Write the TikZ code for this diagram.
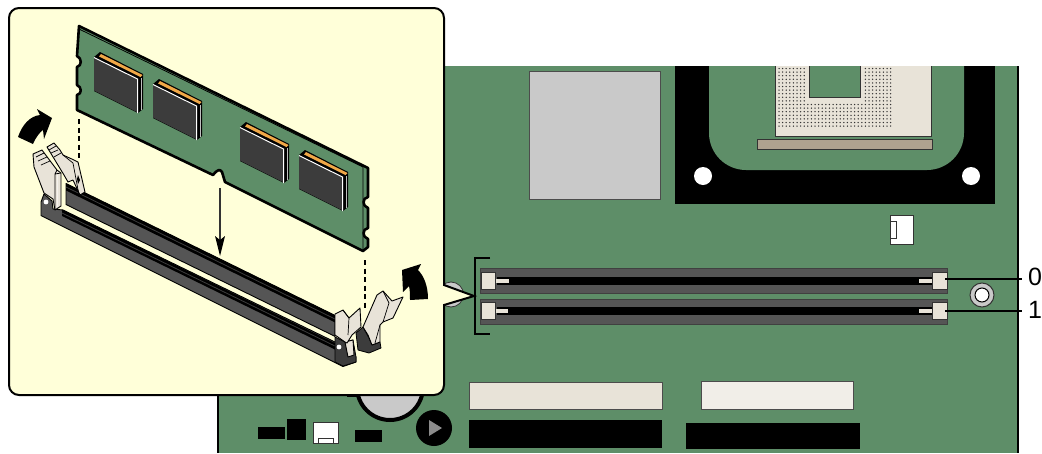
\documentclass[tikz,border=0pt]{standalone}
\usepackage{fontspec}
\setmainfont{Liberation Sans}
\definecolor{pcb}{HTML}{5E8E68}
\definecolor{cream}{HTML}{FFFFD9}
\definecolor{beige}{HTML}{E8E3D8}
\definecolor{slotgray}{HTML}{555555}
\definecolor{chipgray}{HTML}{3C3C3C}
\definecolor{tan}{HTML}{AFA28F}
\definecolor{silver}{HTML}{C9C9C9}
\definecolor{orangepin}{HTML}{F0A848}
\tikzset{
  slotbody/.style={fill=slotgray,draw=black!75,line width=0.8},
  clipbox/.style={fill=beige,draw=black!80,line width=0.8},
  clipshape/.style={fill=beige,draw=black,line width=0.9,line join=round},
  railshape/.style={fill=chipgray,draw=black,line width=0.8,line join=round},
  guide/.style={draw=black,line width=1.8,dash pattern=on 5pt off 3.5pt},
  leader/.style={draw=black,line width=1.5},
  numlabel/.style={font=\fontsize{25}{27}\selectfont,inner sep=0pt,anchor=center},
}
\newcommand{\chip}[2]{%
  \begin{scope}[shift={(#1,#2)}]
    \fill[black] (0,0) -- (6,-5) -- (49,17) -- (49,52) -- (44,56) -- (0,34) -- cycle;
    \fill[orangepin] (7,-3) -- (48.5,18) -- (46.5,20) -- (5,-0.5) -- cycle;
    \fill[chipgray] (0,1) -- (43,22) -- (43,55) -- (0,33.5) -- cycle;
    \draw[white,line width=1] (0,0.5) -- (43.5,22) -- (43.5,56);
    \draw[white!75!black,line width=0.6] (47,21) -- (47,53);
  \end{scope}}
\begin{document}
\begin{tikzpicture}[x=1pt,y=-1pt]
\useasboundingbox (0,0) rectangle (1042,453);
\fill[white] (0,0) rectangle (1042,453);
% board
\fill[pcb] (218,66) rectangle (1018,453);
\draw[black,line width=2] (218,380) -- (218,453);
\draw[black,line width=2] (1018,66) -- (1018,453);
% silver block
\draw[fill=silver,draw=black!70,line width=1] (529,71) rectangle (660,199);
% CPU retention
\fill[black] (675,66) rectangle (995,204);
\fill[pcb] (709,66) -- (709,133) arc[start angle=180,end angle=90,radius=37] -- (927,170) arc[start angle=90,end angle=0,radius=37] -- (964,66) -- cycle;
\draw[fill=beige,draw=black!80,line width=0.8] (775,66) -- (775,136) -- (931,136) -- (931,66);
\foreach \r in {0,...,16} {
  \pgfmathsetmacro{\yy}{68.5+3.6*\r}
  \foreach \c in {0,...,31} {
    \pgfmathsetmacro{\xx}{779+3.6*\c}
    \pgfmathparse{(\r>9)||(\xx<805)||(\xx>865)?1:0}
    \ifnum\pgfmathresult=1\fill[black!80] (\xx,\yy) circle[radius=0.75];\fi
  }
}
\draw[fill=pcb,draw=black!80,line width=0.9] (809,66) -- (809,97) -- (860,97) -- (860,66);
\draw[fill=tan,draw=black!80,line width=0.9] (757,139) rectangle (932,149);
\fill[white] (703,176) circle[radius=9];
\fill[white] (971,176) circle[radius=9];
% small connector
\draw[fill=white,draw=black!80,line width=0.8] (890,215) rectangle (913,244);
\draw[draw=black!80,line width=0.8] (890,221) rectangle (896,238);
% ring
\draw[fill=silver,draw=black!80,line width=1] (982,295) circle[radius=12];
\draw[fill=white,draw=black,line width=1] (982,295) circle[radius=7];
% DIMM slots on board
\draw[slotbody] (480,268) rectangle (947,293);
\fill[black] (497,277) rectangle (934,285);
\draw[slotbody] (480,299) rectangle (947,324);
\fill[black] (497,307) rectangle (934,315);
\fill[beige] (495,279) rectangle (509,283);
\fill[beige] (495,309) rectangle (508,313);
\fill[beige] (919,279) rectangle (932,283);
\fill[beige] (919,309) rectangle (932,313);
\draw[clipbox] (481,272) rectangle (495,289);
\draw[clipbox] (481,302) rectangle (495,319);
\draw[clipbox] (932,272) rectangle (947,289);
\draw[clipbox] (932,302) rectangle (947,319);
% bracket
\draw[black,line width=1.5] (490,258) -- (475,258) -- (475,334) -- (490,334);
% rear parts
\draw[fill=silver,draw=black!80,line width=0.8] (451,294.5) circle[radius=12.5];
% bottom items
\fill[silver] (390,387) circle[radius=34];
\draw[black,line width=4] (390,387) circle[radius=33];
\fill[black] (347,390) rectangle (357,396.5);
\draw[fill=beige,draw=black!70,line width=0.8] (469,382) rectangle (662,409);
\draw[fill=beige!60!white,draw=black!70,line width=0.8] (701,381) rectangle (853,409);
\fill[black] (469,420) rectangle (662,448);
\fill[black] (686,423) rectangle (860,449);
\fill[black] (258,427) rectangle (285,439);
\fill[black] (287,419) rectangle (306,440);
\draw[fill=white,draw=black!80,line width=0.8] (313,422) rectangle (338,443);
\draw[fill=white,draw=black!80,line width=0.8] (318,438) rectangle (333,443);
\fill[black] (355,430) rectangle (382,442);
\fill[black] (434,428) circle[radius=18];
\fill[black!45] (429,420) -- (442,428) -- (429,436) -- cycle;
% callout
\draw[fill=cream,draw=black,line width=2,line join=miter,rounded corners=10]
  (9,200) -- (9,8) -- (444,8) [sharp corners] -- (444,285) -- (474,296) -- (444,305) [rounded corners=10] -- (444,395) -- (9,395) -- cycle;
% back rail
\draw[fill=slotgray,draw=black,line width=0.9,line join=round] (66,183.5) -- (335,315.4) -- (335,336.4) -- (66,204.5) -- cycle;
\fill[black] (66,183.5) -- (335,315.4) -- (335,322.4) -- (66,190.5) -- cycle;
\draw[chipgray,line width=0.8] (66,187) -- (335,319);
% front rail
\draw[fill=slotgray,draw=black,line width=0.9,line join=round]
  (41,202) -- (44,194) -- (52,201) -- (53,209) -- (63,210) -- (335,342) -- (337,347) -- (356,357) -- (356,362) -- (343,366.5) -- (41,215.5) -- cycle;
\fill[black] (62,209.5) -- (337,344) -- (337,350.5) -- (62,216) -- cycle;
\draw[chipgray,line width=0.8] (62,213) -- (337,347);
% left back clip
\draw[clipshape] (47,147) -- (54,143) -- (60,150) -- (63,155) -- (74,160) -- (78,162) -- (85,192) -- (80,195) -- (73,180) -- (68,182) -- (64,175) -- cycle;
\draw[black,line width=0.7] (49,150) -- (56,146) (51,153) -- (58,150) (54,157) -- (61,153);
\draw[black,line width=0.7] (73,163) -- (79,195) (63,155) -- (73,163);
\fill[black] (78,175) -- (80,180) -- (78,184) -- (77,179) -- cycle;
% left front clip
\draw[clipshape] (33,154) -- (42,150) -- (57,170) -- (61,173) -- (61,206) -- (55,210) -- (53,199) -- (44,193) -- (34,167) -- cycle;
\draw[black,line width=0.7] (36,157) -- (44,153) (38,161) -- (47,157) (41,165) -- (50,161);
\draw[black,line width=0.8] (57,170) -- (55,174) -- (55,210) (55,174) -- (61,173);
\fill[white!50!beige] (56.5,175) rectangle (58,207);
% left hole
\fill[white] (46,202) circle[radius=2.4];
% module
\draw[fill=pcb,draw=black,line width=2.6,line join=round]
  (79,26) -- (368,168) -- (368,197)
  .. controls (362,198) and (362,206) .. (368,208) -- (368,228)
  .. controls (362,229) and (362,237) .. (368,239) -- (368,247) -- (363,251)
  -- (225,182) -- (222,172) .. controls (220,169) and (218,169) .. (213,175)
  -- (77,110) -- (77,95)
  .. controls (82,94) and (82,87) .. (77,85) -- (77,67)
  .. controls (82,66) and (82,58) .. (77,56) -- cycle;
\draw[black,line width=0.8] (79,29) -- (363,167) -- (363,250);
\chip{94}{57}
\chip{153}{84}
\chip{240}{127}
\chip{299}{155}
% guides
\coordinate (gl0) at (79,119);
\coordinate (gl1) at (79,160);
\coordinate (gr0) at (365,260);
\coordinate (gr1) at (365,310);
\coordinate (ga0) at (220,188);
\coordinate (ga1) at (220,256);
\draw[guide] (gl0) -- (gl1);
\draw[guide] (gr0) -- (gr1);
\draw[black!80,line width=1.3] (ga0) -- (220,240);
\fill[black] (ga1) -- (215,236) -- (220,240) -- (225,236) -- cycle;
% right end of slot
\draw[railshape] (356,333) -- (363,327) -- (369,338) -- (372,345) -- (380,342) -- (381,348) -- (369,353) -- (358,350) -- cycle;
\draw[railshape] (335,337) -- (345,342) -- (353,340) -- (356,357) -- (356,362) -- (343,366) -- (335,362) -- cycle;
\draw[clipshape] (345,342) -- (348,357) -- (354,355) -- (353,340) -- cycle;
\draw[clipshape] (335,314) -- (343,310) -- (349,318) -- (360,308) -- (361,327) -- (352,335) -- (347,343) -- (345,342) -- (335,335) -- cycle;
\draw[black,line width=0.7] (343,310) -- (349,318) -- (348,335);
\fill[white] (339,347) circle[radius=2.4];
\draw[clipshape] (363,327) -- (377,295) -- (383,291) -- (392,301) -- (403,297) -- (393,318) -- (383,322) -- (380,325) -- (380,342) -- (372,345) -- (368,335) -- cycle;
\draw[black,line width=0.7] (383,291) -- (389,303) -- (383,322) (380,325) -- (375,343);
% curved arrows
\fill[black] (18,137) .. controls (22,125) and (30,116) .. (40,115) -- (37,109) -- (52,118) -- (44,139) -- (43,130) .. controls (40,132) and (36,137) .. (33,144) -- cycle;
\fill[black] (428,299) .. controls (428,286) and (424,276) .. (418,270) -- (421,264) -- (402,270) -- (403,292) -- (409,286) .. controls (410,290) and (410,295) .. (410,300) -- cycle;
% leaders and labels
\coordinate (c0) at (945,279);
\coordinate (c1) at (945,311);
\node[numlabel] (l0) at (1035,277) {0};
\node[numlabel] (l1) at (1035,310) {1};
\draw[leader] (c0) -- (1022,279);
\draw[leader] (c1) -- (1022,311);
\end{tikzpicture}
\end{document}
